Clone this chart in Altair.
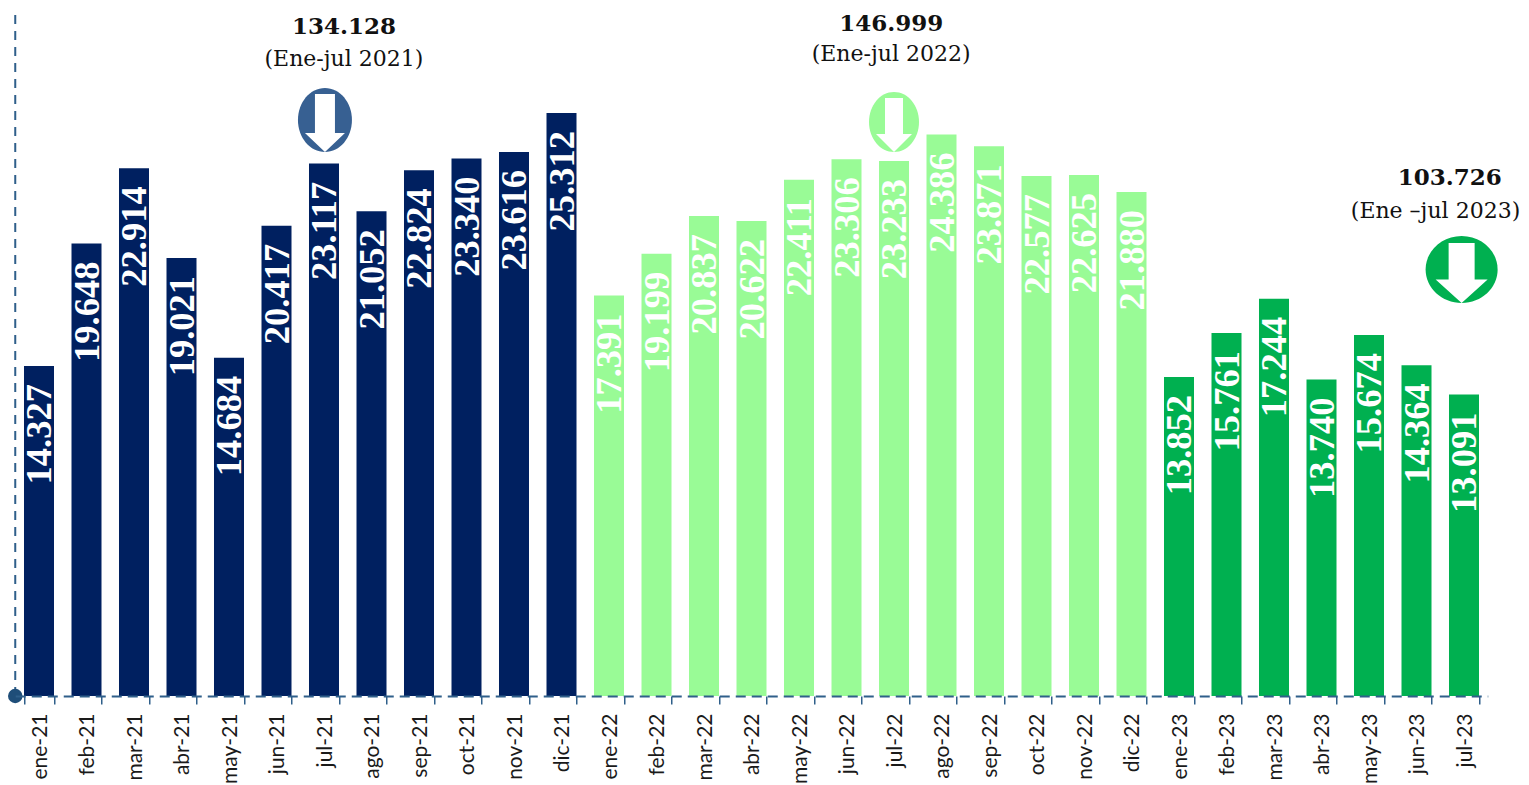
import altair as alt
import pandas as pd

months = ["ene-21","feb-21","mar-21","abr-21","may-21","jun-21","jul-21","ago-21","sep-21","oct-21","nov-21","dic-21",
          "ene-22","feb-22","mar-22","abr-22","may-22","jun-22","jul-22","ago-22","sep-22","oct-22","nov-22","dic-22",
          "ene-23","feb-23","mar-23","abr-23","may-23","jun-23","jul-23"]
values = [14327,19648,22914,19021,14684,20417,23117,21052,22824,23340,23616,25312,
          17391,19199,20837,20622,22411,23306,23233,24386,23871,22577,22625,21880,
          13852,15761,17244,13740,15674,14364,13091]
labels = ["14.327","19.648","22.914","19.021","14.684","20.417","23.117","21.052","22.824","23.340","23.616","25.312",
          "17.391","19.199","20.837","20.622","22.411","23.306","23.233","24.386","23.871","22.577","22.625","21.880",
          "13.852","15.761","17.244","13.740","15.674","14.364","13.091"]
years = ["2021"]*12 + ["2022"]*12 + ["2023"]*7
year_domain = ["2021","2022","2023"]
year_colors = ["#002060","#99FB96","#00B050"]

total_text = ["134.128","146.999","103.726"]
total_x = [6.92,18.44,30.2]
total_y = [29049,29180,22492]
period_text = ["(Ene-jul 2021)","(Ene-jul 2022)","(Ene –jul 2023)"]
period_x = [6.92,18.44,29.9]
period_y = [27660,27877,21059]

badge_x = [6.52,18.5,30.45]
badge_y = [25011,24924,18520]
badge_colors = ["#376092","#99FB96","#00B050"]
ellipse_paths = [
    "M-27,0A27,32 0 1,1 27,0A27,32 0 1,1 -27,0Z",
    "M-25,0A25,30 0 1,1 25,0A25,30 0 1,1 -25,0Z",
    "M-36,0A36,33.5 0 1,1 36,0A36,33.5 0 1,1 -36,0Z",
]
arrow_paths = [
    "M-10,-26L10,-26L10,13L20,13L0,32L-20,13L-10,13Z",
    "M-9,-24L9,-24L9,12L18,12L0,30L-18,12L-9,12Z",
    "M-13,-26.5L13,-26.5L13,10L26,10L0,33.5L-26,10L-13,10Z",
]

Y_MAX = 29874
AXIS = "#2F5F8A"
df = pd.DataFrame({"month":months,"value":values,"label":labels,"year":years})
ann = pd.DataFrame({"x":total_x,"y":total_y,"t":total_text,"px":period_x,"py":period_y,"p":period_text})
yscale = alt.Scale(domain=[0,Y_MAX], nice=False)
xq = alt.Scale(domain=[0,31], nice=False, zero=False)

band = alt.Scale(paddingInner=0.3684, paddingOuter=0.1842)
bars = alt.Chart(df).mark_bar(clip=False).encode(
    x=alt.X("month:N", sort=months, scale=band, title=None,
            axis=alt.Axis(labelAngle=270, labelFont="Lato", labelFontSize=21, labelColor="#1a1a1a",
                          labelPadding=9, labelAlign="right", labelBaseline="middle", labelOffset=1,
                          tickBand="extent", tickSize=8, tickColor=AXIS, tickWidth=1.5,
                          domainColor=AXIS, domainWidth=2, domainDash=[10,6], zindex=1, labelOverlap=False)),
    y=alt.Y("value:Q", scale=yscale, title=None, axis=None),
    color=alt.Color("year:N", scale=alt.Scale(domain=year_domain, range=year_colors), legend=None),
)
bar_text = alt.Chart(df).mark_text(angle=270, align="right", baseline="middle", dx=-18, dy=1,
                                   font="Liberation Serif", fontWeight="bold", fontSize=36.5, color="white").encode(
    x=alt.X("month:N", sort=months, scale=band, title=None),
    y=alt.Y("value:Q", scale=yscale, title=None),
    text="label:N",
)
base = bars + bar_text

over = []
for i in range(3):
    d = pd.DataFrame({"x":[badge_x[i]],"y":[badge_y[i]]})
    enc = dict(x=alt.X("x:Q", scale=xq, axis=None), y=alt.Y("y:Q", scale=yscale, axis=None))
    over.append(alt.Chart(d).mark_point(shape=ellipse_paths[i], filled=True, size=4, color=badge_colors[i], opacity=1).encode(**enc))
    over.append(alt.Chart(d).mark_point(shape=arrow_paths[i], filled=True, size=4, color="white", opacity=1).encode(**enc))

tot = alt.Chart(ann).mark_text(font="DejaVu Serif", fontWeight="bold", fontSize=23, color="#111111").encode(
    x=alt.X("x:Q", scale=xq, axis=None), y=alt.Y("y:Q", scale=yscale, axis=None), text="t:N")
per = alt.Chart(ann).mark_text(font="DejaVu Serif", fontSize=22, color="#111111").encode(
    x=alt.X("px:Q", scale=xq, axis=None), y=alt.Y("py:Q", scale=yscale, axis=None), text="p:N")
vline = alt.Chart(pd.DataFrame({"x":[0],"y":[0],"y2":[Y_MAX]})).mark_rule(color=AXIS, strokeWidth=2, strokeDash=[9,7]).encode(
    x=alt.X("x:Q", scale=xq, axis=None), y=alt.Y("y:Q", scale=yscale, axis=None), y2="y2:Q")
dot = alt.Chart(pd.DataFrame({"x":[0],"y":[0]})).mark_point(shape="circle", filled=True, size=210, color="#1F4E79", opacity=1, clip=False).encode(
    x=alt.X("x:Q", scale=xq, axis=None), y=alt.Y("y:Q", scale=yscale, axis=None))

overlay = alt.layer(vline, *over, tot, per, dot)
chart = alt.layer(base, overlay).resolve_scale(x="independent").properties(
    width=1472.5, height=688,
    padding={"left":7.25,"top":0,"right":33,"bottom":89},
    autosize=alt.AutoSizeParams(type="none"),
    background="white",
).configure_view(stroke=None)
chart.save("out.html", embed_options={"renderer":"svg","actions":False})
